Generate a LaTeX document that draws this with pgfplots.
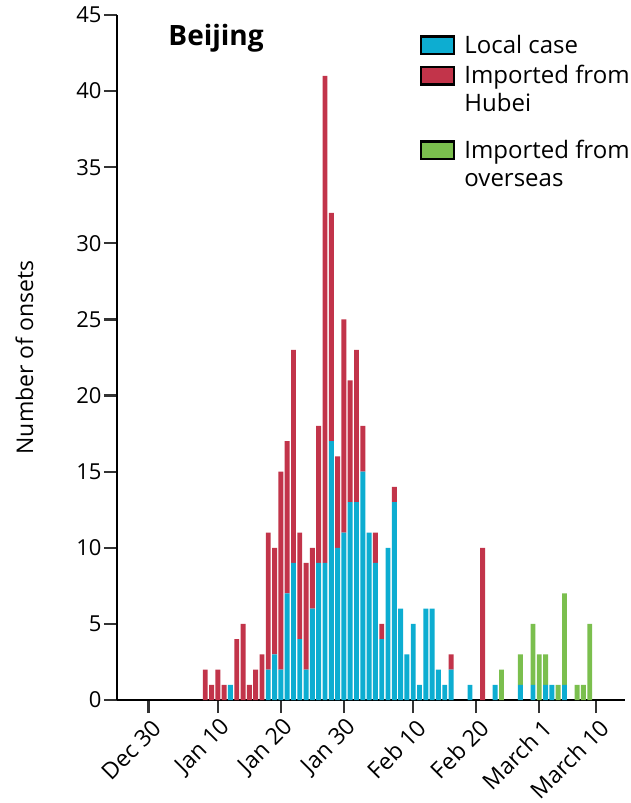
\documentclass[border=0pt]{standalone}
\usepackage{fontspec}
\setmainfont{Open Sans}
\usepackage{pgfplots}
\usepackage{pgfplotstable}
\pgfplotsset{compat=1.18}
\newcommand\fs[2]{\fontsize{#1}{#2}\selectfont}
\definecolor{localc}{HTML}{0DADD1}
\definecolor{hubeic}{HTML}{C2344A}
\definecolor{overc}{HTML}{7BBF4E}
\pgfplotsset{
  lowpatch/.style={legend image code/.code={\draw[##1,draw=black,line width=2.5pt] (0pt,-0.75pt) rectangle (33pt,16.75pt);}},
  highpatch/.style={legend image code/.code={\draw[##1,draw=black,line width=2.5pt] (0pt,27.25pt) rectangle (33pt,44.75pt);}},
}
% d = days after Dec 30 (Jan n -> n+1, Feb n -> 32+n, Mar n -> 61+n)
\pgfplotstableread{
d loc hub ovs
9 0 2 0
10 0 1 0
11 0 2 0
12 0 1 0
13 1 0 0
14 0 4 0
15 0 5 0
16 0 1 0
17 0 2 0
18 0 3 0
19 2 9 0
20 3 7 0
21 2 13 0
22 7 10 0
23 9 14 0
24 4 7 0
25 2 7 0
26 6 4 0
27 9 9 0
28 9 32 0
29 17 15 0
30 10 6 0
31 11 14 0
32 13 8 0
33 13 10 0
34 15 3 0
35 11 0 0
36 9 2 0
37 4 1 0
38 10 0 0
39 13 1 0
40 6 0 0
41 3 0 0
42 5 0 0
43 1 0 0
44 6 0 0
45 6 0 0
46 2 0 0
47 1 0 0
48 2 1 0
49 0 0 0
50 0 0 0
51 1 0 0
52 0 0 0
53 0 10 0
54 0 0 0
55 1 0 0
56 0 0 2
57 0 0 0
58 0 0 0
59 1 0 2
60 0 0 0
61 1 0 4
62 0 0 3
63 1 0 2
64 1 0 0
65 0 0 1
66 1 0 6
67 0 0 0
68 0 0 1
69 0 0 1
70 0 0 5
}\datatable
\begin{document}
\begin{tikzpicture}
\begin{axis}[
  scale only axis, width=508pt, height=685pt,
  xmin=-5, xmax=75.6, ymin=0, ymax=45,
  axis lines*=left,
  axis line style={line width=2.2pt, black},
  ybar stacked, bar width=0.78,
  ytick={0,5,...,45},
  xtick={0,11,21,31,42,52,62,71},
  xticklabels={Dec 30,Jan 10,Jan 20,Jan 30,Feb 10,Feb 20,March 1,March 10},
  tick align=outside,
  major tick length=13pt,
  every tick/.style={line width=2.2pt, black!80},
  /pgf/number format/assume math mode=true,
  yticklabel style={font=\fs{22}{22}, xshift=1pt},
  xticklabel style={font=\fs{23}{23}, rotate=45, anchor=east, xshift=2pt, yshift=-14pt},
  ylabel={Number of onsets},
  ylabel style={font=\fs{23}{23}},
  ylabel shift=36pt,
  legend style={draw=none, fill=none, font=\fs{24}{29}, at={(0.596,0.9708)}, anchor=north west,
    inner sep=0pt, row sep=10pt, column sep=9pt, nodes={inner sep=0pt}, cells={anchor=base west}},
]
\addplot[fill=localc, draw=none, lowpatch] table[x=d,y=loc]{\datatable};
\addplot[fill=hubeic, draw=none, highpatch] table[x=d,y=hub]{\datatable};
\addplot[fill=overc, draw=none, highpatch] table[x=d,y=ovs]{\datatable};
\legend{Local case,
  {\vbox{\baselineskip=28pt\hbox{Imported from}\hbox{Hubei}}},
  {\vbox{\baselineskip=28pt\hbox{Imported from\rule{0pt}{35pt}}\hbox{overseas}}}}
\node[font=\fs{28}{28}\bfseries] at (rel axis cs:0.195,0.966) {Beijing};
\end{axis}
\pgfresetboundingbox
\path[use as bounding box] (current axis.south west) ++(-117pt,-103pt) rectangle ++(630pt,803pt);
\end{tikzpicture}
\end{document}
